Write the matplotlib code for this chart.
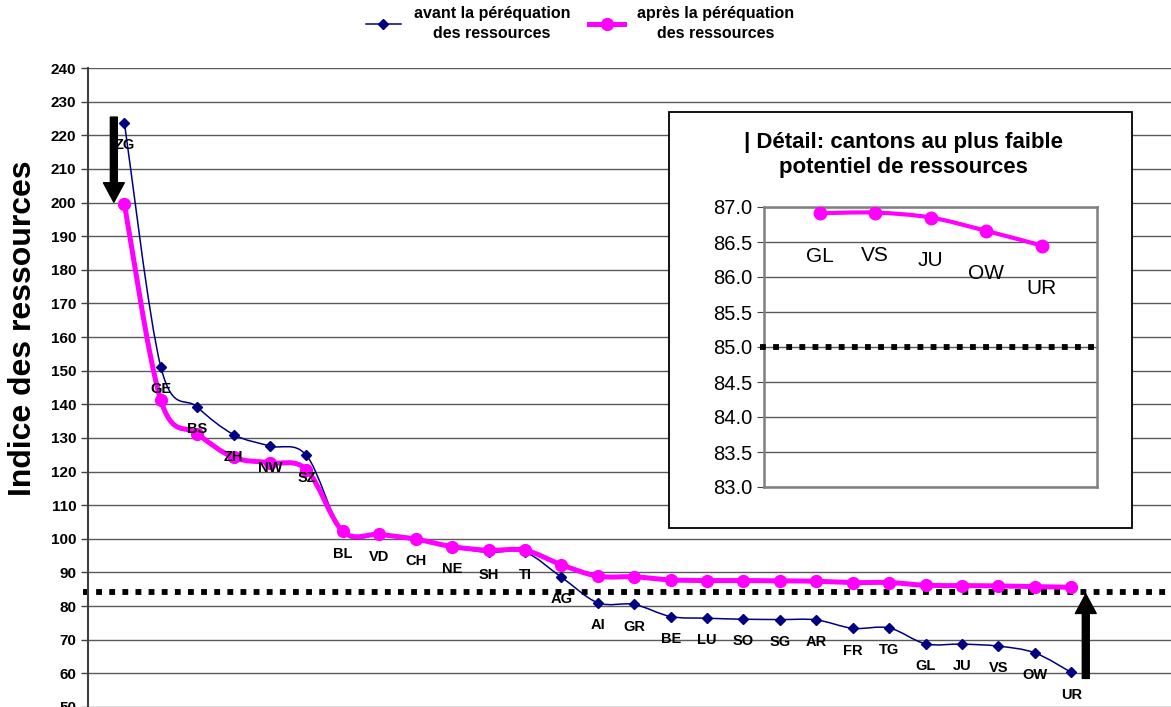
import numpy as np
import matplotlib
matplotlib.use("Agg")
import matplotlib.pyplot as plt
from matplotlib.path import Path
from matplotlib.patches import PathPatch, Rectangle
from matplotlib.lines import Line2D

plt.rcParams["font.family"] = ["Liberation Sans", "DejaVu Sans"]

# data
cantons = ["ZG", "GE", "BS", "ZH", "NW", "SZ", "BL", "VD", "CH", "NE", "SH",
           "TI", "AG", "AI", "GR", "BE", "LU", "SO", "SG", "AR", "FR", "TG",
           "GL", "JU", "VS", "OW", "UR"]
avant = [223.7, 151.1, 139.2, 131.0, 127.6, 124.8, 102.0, 101.1, 99.9, 97.5,
         96.0, 96.0, 88.6, 81.0, 80.5, 76.9, 76.4, 76.1, 76.0, 75.9, 73.4,
         73.5, 68.8, 68.7, 68.1, 66.1, 60.3]
apres = [199.5, 141.2, 131.3, 124.2, 122.6, 120.6, 102.2, 101.3, 99.9, 97.7,
         96.6, 96.6, 92.3, 88.9, 88.7, 87.8, 87.6, 87.6, 87.5, 87.4, 87.0,
         87.0, 86.2, 86.1, 86.0, 85.8, 85.6]
detail_cantons = ["GL", "VS", "JU", "OW", "UR"]
detail_apres = [86.91, 86.92, 86.85, 86.66, 86.45]
seuil_main = 84.1
seuil_detail = 85.0

BLUE = "#000080"
PINK = "#FF00FF"
GRID = "#5a5a5a"


def smooth_path(x, y):
    # Excel-like smoothed line as cubic bezier segments
    pts = np.column_stack([x, y]).astype(float)
    n = len(pts)
    verts = [pts[0]]
    codes = [Path.MOVETO]
    for i in range(n - 1):
        p0 = pts[max(i - 1, 0)]
        p1 = pts[i]
        p2 = pts[i + 1]
        p3 = pts[min(i + 2, n - 1)]
        verts += [p1 + (p2 - p0) / 6.0, p2 - (p3 - p1) / 6.0, p2]
        codes += [Path.CURVE4] * 3
    return Path(verts, codes)


fig = plt.figure(figsize=(11.71, 7.07), dpi=100)
W, H = 1171.0, 707.0

ax = fig.add_axes([88 / W, 0.0, 1 - 88 / W, 1 - 68 / H])
ax.set_zorder(0)
xs = np.arange(len(cantons))

ax.add_patch(PathPatch(smooth_path(xs, avant), fc="none", ec=BLUE, lw=1.1, zorder=3))
ax.plot(xs, avant, ls="none", marker="D", ms=5.5, color=BLUE, zorder=4)
ax.add_patch(PathPatch(smooth_path(xs, apres), fc="none", ec=PINK, lw=3.6, zorder=5))
ax.plot(xs, apres, ls="none", marker="o", ms=8.5, color=PINK, zorder=6)

for xi, yi, lab in zip(xs, avant, cantons):
    ax.annotate(lab, (xi, yi), xytext=(0, -16), textcoords="offset points",
                ha="center", va="center", fontsize=10.5, fontweight="bold", zorder=7)

ax.axhline(seuil_main, xmin=-0.005, xmax=1, color="black", lw=4.2,
           ls=(0, (1, 1.25)), clip_on=False, zorder=2)

ax.set_xlim(-1, 28.74)
ax.set_ylim(50, 240)
ax.set_yticks(np.arange(50, 241, 10))
ax.set_xticks([])
ax.yaxis.grid(True, color=GRID, lw=1.0)
ax.set_axisbelow(True)
for s in ["top", "right", "bottom"]:
    ax.spines[s].set_visible(False)
ax.spines["left"].set_color("#404040")
ax.spines["left"].set_linewidth(1.5)
ax.tick_params(axis="y", direction="out", length=5, width=1, color="#404040",
               labelsize=11)
for t in ax.get_yticklabels():
    t.set_fontweight("bold")

fig.text(23 / W, 1 - 328 / H, "Indice des ressources", rotation=90,
         ha="center", va="center", fontsize=23, fontweight="bold")

# arrows
arrow_kw = dict(width=5, headwidth=15, headlength=14, color="black", shrink=0)
ax.annotate("", xy=(-0.29, 200.1), xytext=(-0.29, 225.4), arrowprops=arrow_kw, zorder=8)
ax.annotate("", xy=(26.4, 83.6), xytext=(26.4, 58.5), arrowprops=arrow_kw, zorder=8)

# legend
handles = [
    Line2D([], [], color=BLUE, lw=1.1, marker="D", ms=5),
    Line2D([], [], color=PINK, lw=3.6, marker="o", ms=8.5),
]
leg = fig.legend(handles, ["avant la péréquation\ndes ressources",
                           "après la péréquation\ndes ressources"],
                 ncol=2, loc="upper center", bbox_to_anchor=(580 / W, 1.012),
                 frameon=False, handlelength=2.2, handletextpad=0.8,
                 columnspacing=1.2, prop={"size": 11.5, "weight": "bold"})
for t in leg.get_texts():
    t.set_multialignment("center")
    t.set_linespacing(1.45)

# inset box
box = Rectangle((669 / W, 1 - 528 / H), (1132 - 669) / W, (528 - 112) / H,
                transform=fig.transFigure, fc="white", ec="black", lw=1.3, zorder=1)
fig.add_artist(box)

axi = fig.add_axes([764 / W, 1 - 487 / H, (1097 - 764) / W, (487 - 207) / H])
axi.set_zorder(2)
xd = np.arange(len(detail_cantons))
axi.add_patch(PathPatch(smooth_path(xd, detail_apres), fc="none", ec=PINK, lw=3.0, zorder=5))
axi.plot(xd, detail_apres, ls="none", marker="o", ms=9, color=PINK, zorder=6)
for xi, yi, lab in zip(xd, detail_apres, detail_cantons):
    axi.annotate(lab, (xi, yi), xytext=(0, -31), textcoords="offset points",
                 ha="center", va="center", fontsize=15, zorder=7)
axi.axhline(seuil_detail, xmin=-0.012, xmax=1.012, color="black", lw=4.2,
            ls=(0, (1, 1.25)), clip_on=False, zorder=4)
axi.set_xlim(-1, 5)
axi.set_ylim(83, 87)
axi.set_yticks(np.arange(83, 87.01, 0.5))
axi.set_yticklabels([f"{v:.1f}" for v in np.arange(83, 87.01, 0.5)])
axi.set_xticks([])
axi.yaxis.grid(True, color=GRID, lw=1.0)
axi.set_axisbelow(True)
for s in axi.spines.values():
    s.set_color("#808080")
    s.set_linewidth(1.8)
axi.tick_params(axis="y", direction="out", length=5, color="#404040", labelsize=14.5)

fig.text(903 / W, 1 - 155 / H,
         "| Détail: cantons au plus faible\npotentiel de ressources",
         ha="center", va="center", fontsize=16, fontweight="bold",
         linespacing=1.2, zorder=3)

fig.savefig("out.png", dpi=100)
